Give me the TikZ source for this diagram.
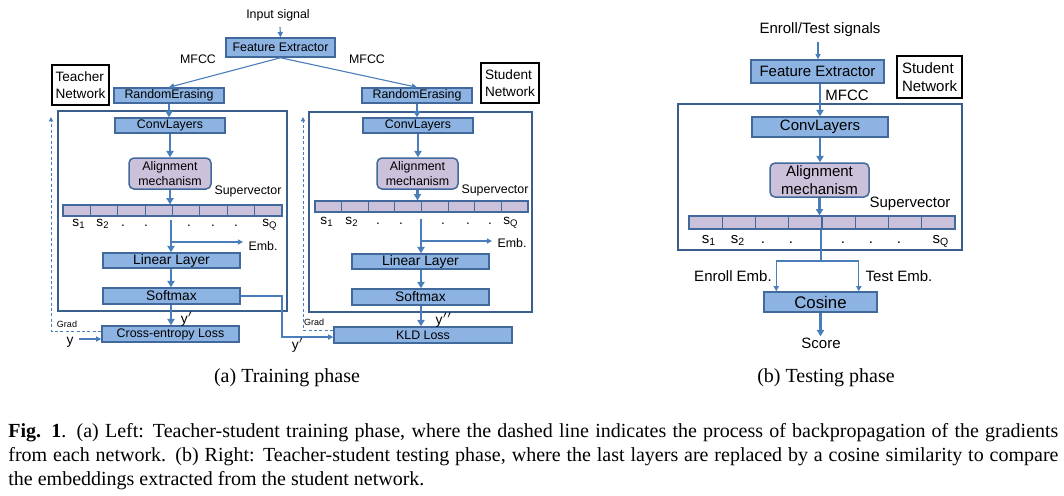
\documentclass[tikz,border=0pt]{standalone}
\usepackage{fontspec}
\setmainfont{Liberation Serif}
\newfontfamily\arialf{Liberation Sans}
\usetikzlibrary{arrows.meta,calc}
\definecolor{boxfill}{HTML}{8DB3E2}
\definecolor{boxline}{HTML}{41699B}
\definecolor{lavfill}{HTML}{CCC1DA}
\definecolor{connc}{HTML}{4A7EBB}
\definecolor{framec}{HTML}{3B5F8C}
\newcommand\fsA{\arialf\fontsize{6.2}{7.8}\selectfont}
\newcommand\fsB{\arialf\fontsize{6.9}{8}\selectfont}
\newcommand\fsC{\arialf\fontsize{7.5}{9}\selectfont}
\newcommand\fsD{\arialf\fontsize{6.8}{8.5}\selectfont}
\newcommand\fsG{\arialf\fontsize{4.5}{5}\selectfont}
\begin{document}
\begin{tikzpicture}[x=0.5pt,y=-0.5pt,
  blk/.style={draw=boxline, fill=boxfill, line width=0.75pt, inner sep=0pt, font=\fsA},
  alig/.style={draw=boxline, fill=lavfill, line width=0.75pt, rounded corners=2.5pt, inner sep=0pt, align=center, font=\fsA},
  cell/.style={draw=boxline, fill=lavfill, line width=0.6pt, inner sep=0pt},
  netlbl/.style={draw=black, line width=0.9pt, fill=white, inner sep=0pt, align=left},
  frm/.style={draw=framec, line width=0.75pt, inner sep=0pt},
  lbl/.style={inner sep=0.5pt, font=\fsA},
  sl/.style={inner sep=0pt, anchor=base},
  tk/.style={draw=connc, line width=1.3pt, -{Triangle[length=3.2pt,width=3.6pt]}},
  tn/.style={draw=connc, line width=0.55pt, -{Triangle[length=2.6pt,width=2.6pt]}},
  tl/.style={draw=connc, line width=0.55pt},
  grad/.style={draw=connc, line width=0.5pt, dash pattern=on 1.5pt off 1.2pt, -{Triangle[length=2.2pt,width=2.2pt]}},
]
\useasboundingbox (0,0) rectangle (1064,495);

% ================= Training phase =================
\node[lbl] (inL) at (278,15) {Input signal};
\node[blk, minimum width=54.5pt, minimum height=9.5pt] (feL) at (280.5,47.5) {Feature Extractor};
\node[lbl] (mfL) at (198,59) {MFCC};
\node[lbl] (mfR) at (367,59) {MFCC};
\node[netlbl, font=\fsD, minimum width=28.5pt, minimum height=20pt] (netT) at (80.5,85) {Teacher\\Network};
\node[netlbl, font=\fsD, minimum width=29pt, minimum height=20pt] (netS) at (510,83) {Student\\Network};

\node[frm, minimum width=114.5pt, minimum height=100pt] (frT) at (172.5,211) {};
\node[frm, minimum width=111.5pt, minimum height=100pt] (frS) at (420.5,212) {};

\node[blk, minimum width=55pt, minimum height=7.5pt] (reL) at (169,95.5) {RandomErasing};
\node[blk, minimum width=55pt, minimum height=7.5pt] (reR) at (417,95.5) {RandomErasing};
\node[blk, minimum width=55pt, minimum height=7.5pt] (clL) at (170,125.5) {ConvLayers};
\node[blk, minimum width=55pt, minimum height=7.5pt] (clR) at (418,125.5) {ConvLayers};
\node[alig, minimum width=41pt, minimum height=15.5pt] (amL) at (170,173.5) {Alignment\\mechanism};
\node[alig, minimum width=40.5pt, minimum height=15.5pt] (amR) at (417.5,173.5) {Alignment\\mechanism};
\node[lbl] (svL) at (248,191) {Supervector};
\node[lbl] (svR) at (495,190) {Supervector};

\foreach \i in {1,...,8} \node[cell, minimum width=13.69pt, minimum height=5.5pt] (a\i) at ({63+27.375*(\i-0.5)},210.5) {};
\foreach \i in {1,...,8} \node[cell, minimum width=13.31pt, minimum height=5.5pt] (b\i) at ({315+26.625*(\i-0.5)},206.5) {};

% supervector labels (teacher)
\node[sl, font=\fsD] (sa1) at (79,226.5) {s\textsubscript{1}};
\node[sl, font=\fsD] (sa2) at (103,226.5) {s\textsubscript{2}};
\node[sl, font=\fsD] (da1) at (123,226.5) {.};
\node[sl, font=\fsD] (da2) at (146,226.5) {.};
\node[sl, font=\fsD] (da3) at (189,226.5) {.};
\node[sl, font=\fsD] (da4) at (213,226.5) {.};
\node[sl, font=\fsD] (da5) at (236,226.5) {.};
\node[sl, font=\fsD] (saQ) at (270,226.5) {s\textsubscript{Q}};
% supervector labels (student)
\node[sl, font=\fsD] (sb1) at (327,224.5) {s\textsubscript{1}};
\node[sl, font=\fsD] (sb2) at (352,224.5) {s\textsubscript{2}};
\node[sl, font=\fsD] (db1) at (378,224.5) {.};
\node[sl, font=\fsD] (db2) at (401,224.5) {.};
\node[sl, font=\fsD] (db3) at (443,224.5) {.};
\node[sl, font=\fsD] (db4) at (468,224.5) {.};
\node[sl, font=\fsD] (db5) at (490,224.5) {.};
\node[sl, font=\fsD] (sbQ) at (511,224.5) {s\textsubscript{Q}};

\node[blk, font=\fsB, minimum width=68.5pt, minimum height=7.5pt] (llL) at (171.5,260.5) {Linear Layer};
\node[blk, font=\fsB, minimum width=68.5pt, minimum height=8pt] (smL) at (171.5,296) {Softmax};
\node[blk, minimum width=68.5pt, minimum height=8pt] (ceL) at (170.5,334) {Cross-entropy Loss};
\node[blk, font=\fsB, minimum width=68.5pt, minimum height=7.5pt] (llR) at (420.5,261.5) {Linear Layer};
\node[blk, font=\fsB, minimum width=68.5pt, minimum height=8pt] (smR) at (420.5,297) {Softmax};
\node[blk, minimum width=89pt, minimum height=8pt] (kld) at (423,335) {KLD Loss};

\node[lbl] (embL) at (263,246) {Emb.};
\node[lbl] (embR) at (512,243) {Emb.};
\node[lbl, font=\fsG] (grT) at (67,324) {Grad};
\node[lbl, font=\fsG] (grS) at (314,322) {Grad};
\node[lbl, font=\fsB] (ypT) at (187,319) {y$^{\prime}$};
\node[lbl, font=\fsB] (ypS) at (444,320) {y$^{\prime\prime}$};
\node[lbl, font=\fsB] (ypX) at (298,345) {y$^{\prime}$};
\node[lbl, font=\fsB] (yin) at (70,342) {y};

% connectors (training)
\coordinate (inLs) at (280,27);
\draw[tn] (inLs) -- (feL.north);
\draw[tn] (feL.south) -- (reL.north);
\draw[tn] (feL.south) -- (reR.north);
\draw[tk] (reL.south) -- (reL.south |- clL.north);
\draw[tk] (clL.south) -- (clL.south |- amL.north);
\draw[tk] (amL.south) -- (amL.south |- a1.north);
\draw[tk] (reR.south) -- (reR.south |- clR.north);
\draw[tk] (clR.south) -- (clR.south |- amR.north);
\draw[tk] (amR.south) -- (amR.south |- b1.north);

\coordinate (vL) at (171,220);
\coordinate (eL) at (243,242);
\draw[tk] (vL) -- (vL |- llL.north);
\draw[tn] (vL |- eL) -- (eL);
\draw[tk] (vL |- llL.south) -- (vL |- smL.north);
\draw[tk] (vL |- smL.south) -- (vL |- ceL.north);

\coordinate (vR) at (421,219);
\coordinate (eR) at (492,241);
\draw[tk] (vR) -- (vR |- llR.north);
\draw[tn] (vR |- eR) -- (eR);
\draw[tk] (vR |- llR.south) -- (vR |- smR.north);
\draw[tk] (vR |- smR.south) -- (vR |- kld.north);

\coordinate (yX) at (282,337);
\draw[tn] (smL.east) -| (yX) -- (yX -| kld.west);
\coordinate (yst) at (79,339);
\draw[tn] (yst) -- (yst -| ceL.west);
\coordinate (gT) at (51,117);
\coordinate (gS) at (303,117);
\draw[grad] ($(ceL.west)+(0,-3)$) -| (gT);
\draw[grad] ($(kld.west)+(0,-5)$) -| (gS);

% ================= Testing phase =================
\node[lbl, font=\fsC] (inT) at (820,30) {Enroll/Test signals};
\node[blk, font=\fsC, minimum width=66.5pt, minimum height=11.5pt] (feT) at (817.5,71.5) {Feature Extractor};
\node[netlbl, font=\fsC, minimum width=32.5pt, minimum height=21pt] (netX) at (929.5,77) {Student\\Network};
\node[lbl, font=\fsC] (mfT) at (847,95) {MFCC};
\node[frm, minimum width=142pt, minimum height=73pt] (frX) at (820,177) {};
\node[blk, font=\fsC, minimum width=68pt, minimum height=10pt] (clT) at (820,127) {ConvLayers};
\node[alig, font=\fsC, minimum width=49.5pt, minimum height=17pt] (amT) at (819.5,180) {Alignment\\mechanism};
\node[lbl, font=\fsC] (svT) at (910,204) {Supervector};
\foreach \i in {1,...,8} \node[cell, minimum width=16.63pt, minimum height=6.5pt] (t\i) at ({689+33.25*(\i-0.5)},222.5) {};
\node[sl, font=\fsC] (st1) at (709,243) {s\textsubscript{1}};
\node[sl, font=\fsC] (st2) at (738,243) {s\textsubscript{2}};
\node[sl, font=\fsC] (dt1) at (763,243) {.};
\node[sl, font=\fsC] (dt2) at (791,243) {.};
\node[sl, font=\fsC] (dt3) at (843,243) {.};
\node[sl, font=\fsC] (dt4) at (871,243) {.};
\node[sl, font=\fsC] (dt5) at (899,243) {.};
\node[sl, font=\fsC] (stQ) at (941,243) {s\textsubscript{Q}};
\node[lbl, font=\fsC] (enE) at (733,276) {Enroll Emb.};
\node[lbl, font=\fsC] (teE) at (899,276) {Test Emb.};
\node[blk, font=\arialf\fontsize{8.4}{10}\selectfont, minimum width=56.5pt, minimum height=10pt] (cosn) at (820.5,302) {Cosine};
\node[lbl, font=\fsC] (score) at (821,343) {Score};

\coordinate (inTs) at (818,42);
\draw[tn] (inTs) -- (inTs |- feT.north);
\draw[tk] (clT.north |- feT.south) -- (clT.north);
\draw[tk] (clT.south) -- (clT.south |- amT.north);
\draw[tk] (amT.south) -- (amT.south |- t1.north);
\coordinate (jT) at (821,261);
\draw[tl] (jT |- t1.south) -- (jT);
\draw[tn] (jT) -| ($(cosn.north west)+(13,0)$);
\draw[tn] (jT) -| ($(cosn.north east)+(-19,0)$);
\draw[tk] (cosn.south) -- (cosn.south |- score.north);

% ================= Captions =================
\node[font=\fontsize{10}{12}\selectfont, inner sep=0pt] (capA) at (287,378) {(a) Training phase};
\node[font=\fontsize{10}{12}\selectfont, inner sep=0pt] (capB) at (826,378) {(b) Testing phase};
\node[anchor=north west, text width=525pt, align=justify, inner sep=0pt, font=\fontsize{10}{12}\selectfont] (cap) at (8,423)
 {\textbf{Fig. 1}. (a) Left: Teacher-student training phase, where the dashed line indicates the process of backpropagation of the gradients\linebreak from each network. (b) Right: Teacher-student testing phase, where the last layers are replaced by a cosine similarity to compare\linebreak the embeddings extracted from the student network.};
\end{tikzpicture}
\end{document}
